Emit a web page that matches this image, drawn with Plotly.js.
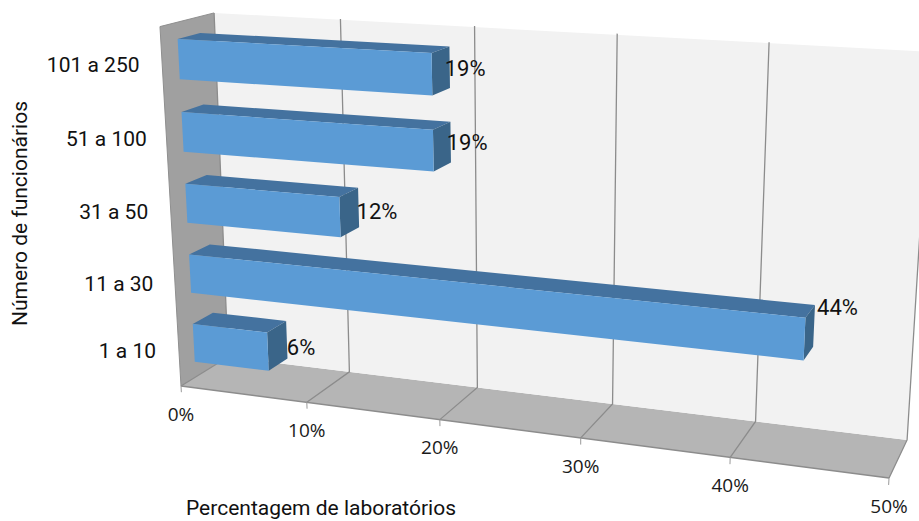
<!DOCTYPE html>
<html>
<head>
<meta charset="utf-8">
<script src="https://cdn.plot.ly/plotly-3.0.1.min.js"></script>
<style>html,body{margin:0;padding:0;background:#fff}#chart{width:919px;height:521px}</style>
</head>
<body>
<div id="chart"></div>
<script>
// Share of laboratories by staff-size band
const categories = ['1 a 10', '11 a 30', '31 a 50', '51 a 100', '101 a 250'];
const values = [6, 44, 12, 19, 19];
const valueLabels = ['6%', '44%', '12%', '19%', '19%'];
const axisTicks = [0, 10, 20, 30, 40, 50];
const axisMax = 50;

// Label placement relative to the projected anchor, per category
const valueLabelNudge = [[2, 10], [5, -16], [0, 6], [-2, 2], [-3, 3]];
const categoryLabelNudge = [[3.5, -2], [-1, 1], [-2, 1], [-5, 0], [-14, 0]];

// Projective camera: u along the value axis, v up, w into the page (all 0..1),
// with small correction terms for the slight bow of the room's far edges
const cam = {
  ax: [181, 587.4, -23.4, 57.6], ay: [386, 27.1, -360.5, -12.5],
  d: [1, -0.1357, -0.0411, 0.0463],
  bowX: 7, bowY: 5, leanX: -4.2
};
function project(value, v, w) {
  const u = value / axisMax;
  const d = cam.d[0] + cam.d[1] * u + cam.d[2] * v + cam.d[3] * w;
  return [
    (cam.ax[0] + cam.ax[1] * u + cam.ax[2] * v + cam.ax[3] * w
      + cam.bowX * u * u * v + cam.leanX * v * (1 - w) * (1 - u)) / d,
    (cam.ay[0] + cam.ay[1] * u + cam.ay[2] * v + cam.ay[3] * w + cam.bowY * u * u * v) / d
  ];
}

// Collect projected polygons into one trace, separated by gaps
function polys(list, color) {
  const x = [], y = [];
  list.forEach(p => {
    p.forEach(q => { const s = project(q[0], q[1], q[2]); x.push(s[0]); y.push(s[1]); });
    const s = project(p[0][0], p[0][1], p[0][2]); x.push(s[0], null); y.push(s[1], null);
  });
  return { type: 'scatter', mode: 'lines', x, y, fill: 'toself', fillcolor: color,
           line: { width: 0, color: color }, hoverinfo: 'skip', showlegend: false };
}
function segs(list, color, width) {
  const x = [], y = [];
  list.forEach(p => {
    p.forEach(q => { const s = project(q[0], q[1], q[2]); x.push(s[0]); y.push(s[1]); });
    x.push(null); y.push(null);
  });
  return { type: 'scatter', mode: 'lines', x, y, line: { color, width }, hoverinfo: 'skip', showlegend: false };
}
function labels(items, font, anchor) {
  return { type: 'scatter', mode: 'text', x: items.map(i => i.x), y: items.map(i => i.y),
           text: items.map(i => i.t), textposition: anchor, textfont: font, cliponaxis: false,
           hoverinfo: 'skip', showlegend: false };
}

const traces = [];
// Room: floor, side wall and back wall
traces.push(polys([[[0,0,0],[axisMax,0,0],[axisMax,0,1],[0,0,1]]], '#b5b5b5'));
traces.push(polys([[[0,0,1],[axisMax,0,1],[axisMax,1,1],[0,1,1]]], '#f2f2f2'));
traces.push(polys([[[0,0,0],[0,0,1],[0,1,1],[0,1,0]]], '#a0a0a0'));

// Gridlines along the floor and up the back wall, ticks under the front edge
traces.push(segs(axisTicks.map(t => [[t,0,0],[t,0,1],[t,1,1]]), '#8c8c8c', 1.3));
traces.push(segs([[[0,0,0],[axisMax,0,0]]], '#8c8c8c', 1.4));
traces.push(segs([[[0,0,0],[0,1,0]],[[0,1,0],[0,1,1]]], '#8f8f8f', 1));
traces.push(segs(axisTicks.map(t => [[t,0,0],[t,-0.018,0]]), '#9a9a9a', 1));

// Bars: one box per category
const barH = 0.11, w0 = 0.3, w1 = 0.72;
const frontFaces = [], topFaces = [], sideFaces = [];
categories.forEach((c, i) => {
  const val = values[i], a = (i + 0.5) / categories.length - barH / 2, b = a + barH;
  frontFaces.push([[0,a,w0],[val,a,w0],[val,b,w0],[0,b,w0]]);
  topFaces.push([[0,b,w0],[val,b,w0],[val,b,w1],[0,b,w1]]);
  sideFaces.push([[val,a,w0],[val,a,w1],[val,b,w1],[val,b,w0]]);
});
traces.push(polys(topFaces, '#44729f'));
traces.push(polys(sideFaces, '#3a6589'));
traces.push(polys(frontFaces, '#5b9bd5'));

// Value labels just past the end of each bar
const valueFont = { family: 'Roboto, sans-serif', size: 22, color: '#111' };
traces.push(labels(values.map((val, i) => {
  const s = project(val, (i + 0.5) / categories.length, w1);
  return { x: s[0] - 2 + valueLabelNudge[i][0], y: s[1] + valueLabelNudge[i][1], t: valueLabels[i] };
}), valueFont, 'middle right'));

// Category labels to the left of the side wall
const categoryFont = { family: 'Roboto, sans-serif', size: 21, color: '#111' };
traces.push(labels(categories.map((c, i) => {
  const s = project(0, (i + 0.5) / categories.length, 0);
  return { x: s[0] - 55 + categoryLabelNudge[i][0], y: s[1] + 3 + categoryLabelNudge[i][1], t: c };
}), categoryFont, 'middle center'));

// Value axis tick labels
const tickFont = { family: '"Open Sans", sans-serif', size: 19, color: '#1a1a1a' };
traces.push(labels(axisTicks.map(t => {
  const s = project(t, 0, 0);
  return { x: s[0], y: s[1] + 30, t: t + '%' };
}), tickFont, 'middle center'));

const layout = {
  width: 919, height: 521, margin: { l: 0, r: 0, t: 0, b: 0 },
  paper_bgcolor: '#fff', plot_bgcolor: '#fff', showlegend: false,
  xaxis: { range: [0, 919], visible: false, fixedrange: true },
  yaxis: { range: [521, 0], visible: false, fixedrange: true },
  annotations: [
    { text: 'Percentagem de laboratórios', xref: 'x', yref: 'y', x: 321, y: 508, showarrow: false,
      font: { family: 'Roboto, sans-serif', size: 21, color: '#111' } },
    { text: 'Número de funcionários', xref: 'x', yref: 'y', x: 20, y: 214, textangle: -90, showarrow: false,
      font: { family: 'Roboto, sans-serif', size: 21, color: '#111' } }
  ]
};
Plotly.newPlot('chart', traces, layout, { displayModeBar: false, staticPlot: true });
</script>
</body>
</html>
